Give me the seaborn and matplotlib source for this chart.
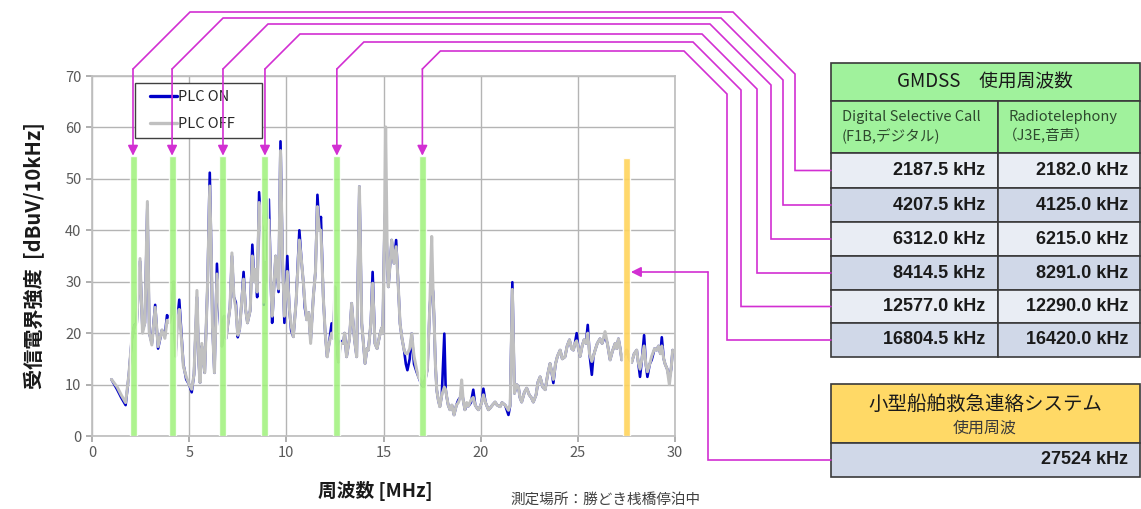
import matplotlib
matplotlib.use('Agg')
import matplotlib.pyplot as plt
import seaborn as sns
from matplotlib.patches import Rectangle

# spectrum (MHz, dBuV/10kHz)
freq = [1.0, 1.3, 1.5, 1.73, 1.9, 2.05, 2.18, 2.3, 2.47, 2.6, 2.72, 2.85, 2.95, 3.08, 3.25, 3.4, 3.6, 3.75, 3.86, 3.98,
        4.1, 4.2, 4.3, 4.4, 4.49, 4.6, 4.7, 4.85, 5.0, 5.13, 5.25, 5.4, 5.5, 5.56, 5.65, 5.73, 5.8, 5.95, 6.06, 6.15,
        6.2, 6.3, 6.43, 6.55, 6.68, 6.8, 6.9, 7.0, 7.1, 7.2, 7.3, 7.4, 7.5, 7.6, 7.7, 7.8, 7.9, 8.0, 8.14, 8.25,
        8.35, 8.4, 8.5, 8.6, 8.75, 8.84, 8.93, 9.0, 9.1, 9.2, 9.27, 9.35, 9.45, 9.6, 9.7, 9.8, 9.9, 10.05, 10.15, 10.25,
        10.36, 10.5, 10.67, 10.78, 10.88, 10.95, 11.05, 11.15, 11.25, 11.39, 11.5, 11.6, 11.7, 11.78, 11.9, 12.0, 12.1, 12.2, 12.33, 12.42,
        12.5, 12.58, 12.68, 12.8, 12.93, 13.0, 13.1, 13.25, 13.36, 13.5, 13.62, 13.76, 13.88, 14.05, 14.15, 14.22, 14.35, 14.44, 14.56, 14.67,
        14.79, 14.9, 14.96, 15.05, 15.11, 15.2, 15.25, 15.35, 15.42, 15.54, 15.65, 15.75, 15.85, 15.95, 16.06, 16.15, 16.23, 16.35, 16.45, 16.57,
        16.7, 16.8, 16.95, 17.05, 17.15, 17.26, 17.38, 17.48, 17.55, 17.6, 17.67, 17.74, 17.82, 17.9, 18.0, 18.13, 18.2, 18.25, 18.33, 18.42,
        18.52, 18.63, 18.75, 18.85, 18.95, 19.02, 19.1, 19.19, 19.28, 19.37, 19.5, 19.62, 19.72, 19.8, 19.88, 19.97, 20.05, 20.14, 20.25, 20.4,
        20.48, 20.6, 20.74, 20.85, 21.0, 21.1, 21.26, 21.35, 21.43, 21.52, 21.63, 21.74, 21.85, 21.94, 22.02, 22.11, 22.25, 22.37, 22.5, 22.6,
        22.71, 22.85, 22.95, 23.06, 23.2, 23.32, 23.45, 23.57, 23.65, 23.74, 23.85, 23.95, 24.09, 24.2, 24.34, 24.45, 24.57, 24.68, 24.77, 24.85,
        24.94, 25.03, 25.12, 25.22, 25.32, 25.42, 25.51, 25.6, 25.72, 25.8, 25.89, 26.0, 26.14, 26.25, 26.4, 26.52, 26.66, 26.78, 26.92, 27.0,
        27.09, 27.18, 27.26, 27.4, 27.52, 27.65, 27.77, 27.9, 28.03, 28.1, 28.2, 28.3, 28.41, 28.5, 28.58, 28.7, 28.8, 28.95, 29.06, 29.15,
        29.25, 29.32, 29.42, 29.49, 29.6, 29.71, 29.8, 29.88]

plc_off = [11.0, 9.5, 8.0, 6.5, 12.0, 19.0, 21.3, 22.0, 34.5, 20.0, 22.0, 45.6, 20.0, 17.7, 25.0, 17.4, 20.6, 19.0, 22.5, 22.0,
           24.0, 30.0, 15.5, 22.0, 24.6, 19.0, 13.6, 11.5, 10.0, 9.1, 12.0, 28.3, 14.0, 10.4, 18.0, 14.9, 12.3, 30.0, 48.6, 33.0,
           21.3, 12.3, 31.5, 26.0, 17.5, 23.3, 19.0, 22.0, 25.0, 35.6, 27.0, 25.0, 19.6, 20.9, 26.0, 30.5, 24.7, 22.0, 24.4, 35.0,
           30.0, 32.4, 28.0, 45.4, 40.3, 26.0, 33.7, 30.0, 42.0, 30.0, 23.3, 28.0, 35.0, 28.6, 55.5, 35.0, 23.3, 32.0, 25.0, 21.4,
           19.3, 26.0, 38.1, 34.0, 29.7, 26.0, 22.6, 24.0, 18.0, 27.1, 32.0, 44.6, 40.0, 40.0, 27.1, 20.0, 15.4, 18.0, 20.0, 19.0,
           29.0, 20.0, 14.4, 18.0, 18.0, 20.0, 15.4, 19.0, 25.8, 19.0, 15.4, 48.5, 21.9, 14.1, 17.0, 16.7, 22.0, 29.7, 18.0, 17.0,
           19.3, 21.0, 19.9, 40.0, 60.1, 33.0, 29.0, 34.0, 38.1, 33.6, 36.8, 30.0, 21.9, 19.0, 16.7, 16.0, 16.0, 17.0, 19.9, 15.5,
           13.0, 11.5, 10.5, 9.6, 11.0, 13.0, 25.0, 38.8, 28.0, 23.2, 14.0, 8.9, 7.0, 5.7, 8.0, 9.5, 9.0, 7.7, 6.0, 5.1,
           6.0, 4.1, 6.0, 6.5, 7.5, 10.9, 7.0, 5.1, 6.5, 5.8, 7.0, 7.5, 6.0, 5.5, 5.1, 5.7, 6.5, 8.0, 6.5, 5.1,
           5.4, 6.0, 6.6, 6.0, 5.7, 6.5, 6.0, 5.5, 5.0, 6.0, 28.5, 8.3, 10.0, 9.6, 7.5, 6.6, 8.5, 9.3, 8.0, 7.5,
           6.6, 8.0, 10.5, 11.5, 9.5, 9.0, 12.0, 14.1, 12.5, 11.0, 14.0, 15.5, 16.7, 15.0, 15.4, 17.5, 18.7, 17.0, 16.7, 18.0,
           18.5, 17.0, 15.5, 17.5, 18.7, 18.0, 20.0, 16.0, 14.5, 15.5, 16.7, 18.0, 18.9, 18.0, 20.3, 18.0, 14.8, 16.5, 18.0, 17.0,
           18.9, 17.0, 14.8, 16.0, 16.7, 15.0, 14.3, 16.0, 16.7, 14.5, 13.0, 15.0, 17.5, 14.0, 12.5, 14.0, 15.5, 17.0, 16.7, 17.5,
           16.0, 17.5, 15.0, 14.0, 13.0, 10.0, 13.0, 16.7]

plc_on = [11.0, 9.0, 7.5, 6.0, 12.0, 19.0, 21.5, 22.0, 34.0, 20.5, 22.0, 45.0, 20.0, 18.0, 25.5, 17.0, 20.6, 19.5, 23.5, 23.0,
          24.0, 29.0, 16.0, 23.5, 26.5, 20.0, 14.0, 11.0, 10.0, 8.5, 12.0, 27.0, 14.0, 10.4, 17.5, 14.9, 12.3, 30.0, 51.2, 33.0,
          21.3, 12.3, 33.5, 24.0, 17.5, 23.3, 19.0, 22.0, 25.0, 35.0, 27.0, 26.0, 19.2, 20.9, 26.0, 31.9, 24.7, 22.0, 24.4, 37.2,
          30.0, 32.4, 27.0, 47.4, 40.3, 25.5, 33.7, 30.0, 46.0, 30.0, 22.0, 28.0, 35.0, 28.0, 57.3, 35.0, 22.0, 35.0, 25.0, 20.5,
          19.3, 26.0, 40.0, 34.0, 29.7, 25.0, 22.6, 24.0, 18.5, 27.1, 32.0, 46.9, 40.0, 42.6, 27.1, 20.0, 15.4, 18.0, 21.9, 19.0,
          28.0, 20.0, 14.4, 18.5, 18.0, 20.0, 15.4, 19.0, 25.8, 19.0, 15.4, 48.5, 21.9, 14.1, 17.0, 16.7, 22.0, 31.9, 18.0, 17.0,
          19.3, 21.0, 19.9, 40.0, 45.0, 33.0, 29.0, 34.0, 38.1, 33.6, 38.1, 30.0, 21.9, 19.0, 16.7, 14.0, 12.8, 15.0, 19.9, 14.0,
          12.5, 11.5, 10.0, 9.6, 11.0, 13.0, 25.0, 30.0, 28.0, 23.2, 14.0, 8.9, 7.0, 5.7, 8.0, 19.9, 9.0, 7.7, 6.0, 5.1,
          6.0, 4.1, 6.0, 7.0, 7.5, 9.0, 7.0, 5.1, 6.0, 5.8, 6.5, 9.0, 6.0, 5.5, 5.1, 5.7, 6.5, 9.2, 6.5, 5.1,
          5.4, 6.0, 6.6, 6.0, 5.7, 6.5, 6.0, 5.0, 4.1, 6.0, 29.9, 8.3, 10.0, 9.6, 7.5, 6.6, 8.5, 9.3, 8.0, 7.5,
          6.6, 8.0, 10.5, 11.5, 9.5, 9.0, 12.0, 14.1, 12.5, 10.3, 14.0, 15.5, 16.7, 15.0, 15.4, 17.5, 18.7, 17.0, 16.7, 18.0,
          20.0, 17.0, 15.5, 17.5, 18.7, 18.0, 21.6, 16.0, 11.9, 15.5, 16.7, 18.0, 18.9, 18.0, 19.5, 18.0, 14.8, 16.5, 18.0, 17.0,
          18.9, 17.0, 14.8, 16.0, 16.7, 15.0, 14.3, 16.0, 16.7, 14.5, 11.5, 15.0, 19.6, 14.0, 11.5, 14.0, 14.8, 17.0, 16.7, 17.5,
          16.0, 19.2, 15.0, 14.0, 13.0, 11.0, 13.0, 16.7]

# GMDSS band markers (green) and small-boat emergency band (orange)
gmdss_mhz = [2.11, 4.12, 6.74, 8.9, 12.6, 17.0]
gmdss_top = 54.5
small_mhz = 27.5
small_top = 54.0

dsc_khz = ['2187.5 kHz', '4207.5 kHz', '6312.0 kHz', '8414.5 kHz', '12577.0 kHz', '16804.5 kHz']
rtel_khz = ['2182.0 kHz', '4125.0 kHz', '6215.0 kHz', '8291.0 kHz', '12290.0 kHz', '16420.0 kHz']
small_khz = '27524 kHz'

sns.set_theme(style='white')
plt.rcParams['font.family'] = ['Noto Sans CJK JP', 'DejaVu Sans']

W, H = 1141, 509
fig = plt.figure(figsize=(W / 100, H / 100), dpi=100)
ax = fig.add_axes([92 / W, 1 - 436 / H, (675 - 92) / W, (436 - 76) / H])

sns.lineplot(x=freq, y=plc_on, ax=ax, color='#0000c8', lw=1.9, label='PLC ON', zorder=2)
sns.lineplot(x=freq, y=plc_off, ax=ax, color='#c0c0c0', lw=2.2, label='PLC OFF', zorder=2.1)
ax.bar(gmdss_mhz, [gmdss_top] * len(gmdss_mhz), width=0.36, color='#9ff27a', alpha=0.85, zorder=3)
ax.bar([small_mhz], [small_top], width=0.36, color='#ffd45c', alpha=0.9, zorder=3)

ax.set_xlim(0, 30)
ax.set_ylim(0, 70)
ax.set_xticks(range(0, 31, 5))
ax.set_yticks(range(0, 71, 10))
ax.grid(True, color='#b4b4b4', lw=1.0)
ax.tick_params(bottom=True, left=True, direction='out', length=4, color='#a6a6a6',
               labelcolor='#595959', labelsize=10.5)
for s in ax.spines.values():
    s.set_color('#bfbfbf')

ax.set_ylabel('受信電界強度  [dBuV/10kHz]', fontsize=14.5, fontweight='bold', color='#1a1a1a')
ax.yaxis.set_label_coords(-0.08, 0.5)
ax.set_xlabel('周波数 [MHz]', fontsize=13.5, fontweight='bold', color='#1a1a1a')
ax.xaxis.set_label_coords(0.485, -0.125)

# legend: frame drawn separately so the box can be wider than its contents
ax.add_patch(Rectangle((0.074, 0.828), 0.218, 0.153, transform=ax.transAxes, facecolor='white',
                       edgecolor='#404040', lw=1.0, zorder=4))
leg = ax.legend(loc='center left', bbox_to_anchor=(0.0995, 0.904), frameon=False, fontsize=10.5,
                handlelength=1.85, handletextpad=0.05, labelspacing=0.85, borderpad=0,
                borderaxespad=0)
leg.set_zorder(6)
for line in leg.get_lines():
    line.set_linewidth(2.4)

# overlay in pixel coordinates for connectors and tables
ov = fig.add_axes([0, 0, 1, 1], zorder=5)
ov.set_xlim(0, W)
ov.set_ylim(H, 0)
ov.axis('off')


def to_px(x, y):
    dx, dy = ax.transData.transform((x, y))
    return dx, H - dy


mag = '#d22fd2'
ytop = [12, 18, 24, 34, 42, 51]
xcorner = [733, 721, 710, 702, 693, 684]
xvert = [795, 783, 771, 757, 741, 727]
row_edges = [153, 188, 222, 256, 290, 323, 357]
row_y = [(row_edges[i] + row_edges[i + 1]) / 2 for i in range(6)]

for i, f in enumerate(gmdss_mhz):
    bx, by = to_px(f, gmdss_top)
    yv = 69
    xs = [bx, bx + (yv - ytop[i]), xcorner[i], xvert[i], xvert[i], 831]
    ys = [yv, ytop[i], ytop[i], ytop[i] + (xvert[i] - xcorner[i]), row_y[i], row_y[i]]
    ov.plot(xs, ys, color=mag, lw=1.2, solid_joinstyle='miter')
    ov.annotate('', xy=(bx, by), xytext=(bx, yv),
                arrowprops=dict(arrowstyle='-|>', color=mag, lw=1.2, mutation_scale=15,
                                shrinkA=0, shrinkB=0))

# small-boat connector
sx, _ = to_px(small_mhz + 0.18, 0)
ov.plot([831, 708, 708], [460, 460, 272], color=mag, lw=1.2, solid_joinstyle='miter')
ov.annotate('', xy=(sx + 1, 272), xytext=(708, 272),
            arrowprops=dict(arrowstyle='-|>', color=mag, lw=1.2, mutation_scale=15,
                            shrinkA=0, shrinkB=0))

# GMDSS table
edge = '#3a3a3a'
x0, xm, x1 = 831, 998, 1140
green = '#a0f29c'
ov.add_patch(Rectangle((x0, 63), x1 - x0, 38, facecolor=green, edgecolor=edge, lw=1.2))
ov.add_patch(Rectangle((x0, 101), xm - x0, 52, facecolor=green, edgecolor=edge, lw=1.2))
ov.add_patch(Rectangle((xm, 101), x1 - xm, 52, facecolor=green, edgecolor=edge, lw=1.2))
fills = ['#e9edf4', '#d0d8e8']
for i in range(6):
    y0 = row_edges[i]
    h = row_edges[i + 1] - y0
    ov.add_patch(Rectangle((x0, y0), xm - x0, h, facecolor=fills[i % 2], edgecolor=edge, lw=1.2))
    ov.add_patch(Rectangle((xm, y0), x1 - xm, h, facecolor=fills[i % 2], edgecolor=edge, lw=1.2))
    ov.text(985, row_y[i], dsc_khz[i], ha='right', va='center', fontsize=13, fontweight='bold',
            family='Liberation Sans', color='#1a1a1a')
    ov.text(1128, row_y[i], rtel_khz[i], ha='right', va='center', fontsize=13, fontweight='bold',
            family='Liberation Sans', color='#1a1a1a')

ov.text(985, 82, 'GMDSS\u3000使用周波数', ha='center', va='center', fontsize=13.5, color='#1a1a1a')
sub = '#2e4a2e'
ov.text(842, 117, 'Digital Selective Call', ha='left', va='center', fontsize=10.5, color=sub)
ov.text(842, 136, '(F1B,デジタル)', ha='left', va='center', fontsize=10.5, color=sub)
ov.text(1008, 117, 'Radiotelephony', ha='left', va='center', fontsize=10.5, color=sub)
ov.text(1003, 136, '（J3E,音声）', ha='left', va='center', fontsize=10.5, color=sub)

# small-boat table
ov.add_patch(Rectangle((x0, 384), x1 - x0, 59, facecolor='#ffd966', edgecolor=edge, lw=1.2))
ov.add_patch(Rectangle((x0, 443), x1 - x0, 34, facecolor='#d0d8e8', edgecolor=edge, lw=1.2))
ov.text(985, 404, '小型船舶救急連絡システム', ha='center', va='center', fontsize=14, color='#1a1a1a')
ov.text(985, 428, '使用周波', ha='center', va='center', fontsize=11.5, color='#3a3a3a')
ov.text(1128, 460, small_khz, ha='right', va='center', fontsize=13, fontweight='bold',
        family='Liberation Sans', color='#1a1a1a')

ov.text(510, 500, '測定場所：勝どき桟橋停泊中', ha='left', va='center', fontsize=10.5, color='#404040')

plt.savefig('out.png', dpi=100)
